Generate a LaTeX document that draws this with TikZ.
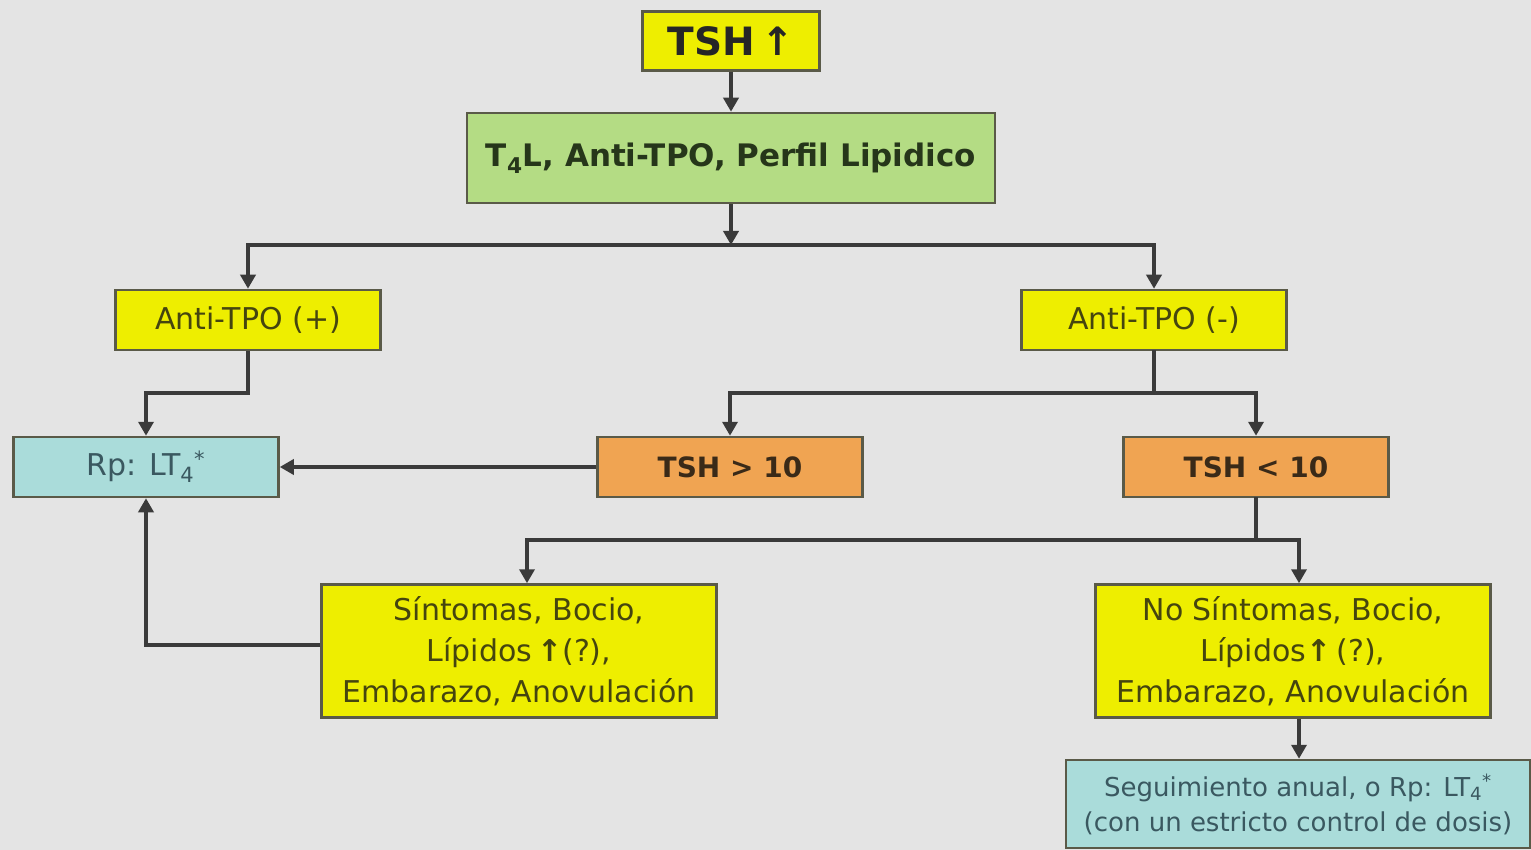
\documentclass[tikz,border=0pt]{standalone}
\usepackage{fontspec}
\setmainfont{DejaVu Sans}
\usetikzlibrary{arrows.meta}
\definecolor{bg}{HTML}{E4E4E4}
\definecolor{yel}{HTML}{EEEE00}
\definecolor{grn}{HTML}{B4DC84}
\definecolor{cyn}{HTML}{AADCDA}
\definecolor{org}{HTML}{F0A452}
\definecolor{bline}{HTML}{5A5A48}
\definecolor{cline}{HTML}{3A3A3A}
\definecolor{ytext}{HTML}{45450F}
\definecolor{gtext}{HTML}{26361A}
\definecolor{ctext}{HTML}{3A5860}
\definecolor{otext}{HTML}{3A2A18}
\begin{document}
\begin{tikzpicture}[x=1pt,y=-1pt,
  box/.style={draw=bline, line width=2.5pt, inner sep=0pt, align=center},
  ybox/.style={box, fill=yel, text=ytext},
  gbox/.style={box, fill=grn, text=gtext},
  cbox/.style={box, fill=cyn, text=ctext},
  obox/.style={box, fill=org, text=otext},
  conn/.style={draw=cline, line width=3.5pt, line join=miter, -{Triangle[length=14pt,width=15pt]}},
  plain/.style={draw=cline, line width=3.5pt, line cap=rect}]
\fill[bg] (0,0) rectangle (1531,850);
\useasboundingbox (0,0) rectangle (1531,850);

\node[ybox, text=black!85, minimum width=177pt, minimum height=59pt, font=\fontsize{39}{44}\selectfont\bfseries] (tsh) at (731,41) {TSH\,↑};
\node[gbox, minimum width=528pt, minimum height=90pt, font=\fontsize{31}{36}\selectfont\bfseries] (lab) at (731,158) {T\textsubscript{4}L, Anti-TPO, Perfil Lipidico};
\node[ybox, minimum width=265pt, minimum height=60pt, font=\fontsize{30}{36}\selectfont] (pos) at (248,320) {Anti-TPO (+)};
\node[ybox, minimum width=265pt, minimum height=60pt, font=\fontsize{30}{36}\selectfont] (neg) at (1154,320) {Anti-TPO (-)};
\node[cbox, minimum width=265pt, minimum height=60pt, font=\fontsize{30}{36}\selectfont] (rp) at (146,467) {Rp: LT\textsubscript{4}\textsuperscript{*}};
\node[obox, minimum width=265pt, minimum height=60pt, font=\fontsize{28}{34}\selectfont\bfseries] (t10) at (730,467) {TSH > 10};
\node[obox, minimum width=265pt, minimum height=60pt, font=\fontsize{28}{34}\selectfont\bfseries] (tl10) at (1256,467) {TSH < 10};
\node[ybox, minimum width=395pt, minimum height=133pt, font=\fontsize{30}{41}\selectfont] (sin) at (519,651) {Síntomas, Bocio,\\Lípidos\,{\bfseries ↑}(?),\\Embarazo, Anovulación};
\node[ybox, minimum width=395pt, minimum height=133pt, font=\fontsize{30}{41}\selectfont] (nos) at (1293,651) {No Síntomas, Bocio,\\Lípidos{\bfseries ↑}\,(?),\\Embarazo, Anovulación};
\node[cbox, minimum width=464pt, minimum height=88pt, font=\fontsize{26}{35}\selectfont] (seg) at (1298,804) {Seguimiento anual, o Rp: LT\textsubscript{4}\textsuperscript{*}\\(con un estricto control de dosis)};

\coordinate (j1) at (731,245);
\coordinate (k1) at (248,393);
\coordinate (k2) at (1154,393);
\coordinate (k3) at (1256,540);

\draw[conn] (tsh.south) -- (lab.north);
\draw[conn] (lab.south) -- (j1);
\draw[conn] (j1) -| (pos.north);
\draw[conn] (j1) -| (neg.north);
\draw[conn] (pos.south) -- (k1) -| (rp.north);
\draw[plain] (neg.south) -- (k2);
\draw[conn] (k2) -| (t10.north);
\draw[conn] (k2) -| (tl10.north);
\draw[conn] (t10.west) -- (rp.east);
\draw[plain] (tl10.south) -- (k3);
\draw[conn] (k3) -| ([xshift=8pt]sin.north);
\draw[conn] (k3) -| ([xshift=6pt]nos.north);
\draw[conn] ([yshift=6pt]sin.west) -| (rp.south);
\draw[conn] ([xshift=6pt]nos.south) -- ([xshift=6pt]nos.south |- seg.north);
\end{tikzpicture}
\end{document}
